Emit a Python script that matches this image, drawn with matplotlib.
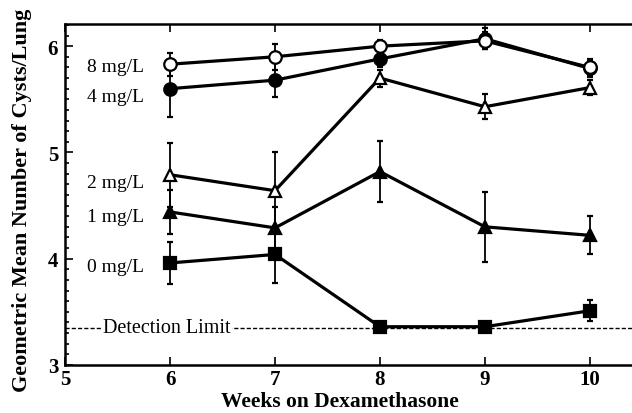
import numpy as np
import matplotlib.pyplot as plt

plt.rcParams['font.family'] = ['Liberation Serif', 'DejaVu Serif']

weeks = [6, 7, 8, 9, 10]

mg0 = [3.96, 4.04, 3.36, 3.36, 3.51]
mg0_err = [0.20, 0.27, 0.0, 0.0, 0.10]
mg1 = [4.44, 4.29, 4.82, 4.30, 4.22]
mg1_err = [0.21, 0.20, 0.29, 0.33, 0.18]
mg2 = [4.79, 4.64, 5.70, 5.43, 5.61]
mg2_err = [0.30, 0.36, 0.08, 0.12, 0.07]
mg4 = [5.60, 5.68, 5.88, 6.07, 5.79]
mg4_err = [0.27, 0.16, 0.08, 0.10, 0.08]
mg8 = [5.83, 5.90, 6.00, 6.05, 5.80]
mg8_err = [0.11, 0.12, 0.06, 0.08, 0.08]

detection_limit = 3.35

labels = ['8 mg/L', '4 mg/L', '2 mg/L', '1 mg/L', '0 mg/L']
label_y = [5.81, 5.53, 4.72, 4.40, 3.93]

fig = plt.figure(figsize=(6.32, 4.14), dpi=100)
ax = fig.add_axes([0.103, 0.116, 0.905, 0.824])

def series(y, err, marker, fill):
    ax.errorbar(weeks, y, yerr=err, color='black', lw=2.3, marker=marker,
                ms=9, mfc=fill, mec='black', mew=1.6,
                elinewidth=1.3, capsize=2.5, capthick=1.3, zorder=3)

series(mg0, mg0_err, 's', 'black')
series(mg1, mg1_err, '^', 'black')
series(mg2, mg2_err, '^', 'white')
series(mg4, mg4_err, 'o', 'black')
series(mg8, mg8_err, 'o', 'white')

ax.axhline(detection_limit, color='black', lw=1.0, ls=(0, (3, 1.5)), zorder=1)
ax.text(5.97, detection_limit, 'Detection Limit', ha='center', va='center',
        fontsize=14.5, zorder=2,
        bbox=dict(facecolor='white', edgecolor='none', pad=1))

for lab, yy in zip(labels, label_y):
    ax.text(5.75, yy, lab, ha='right', va='center', fontsize=14)

ax.set_xlim(5, 10.45)
ax.set_ylim(3, 6.21)
ax.set_xticks([5, 6, 7, 8, 9, 10])
ax.set_yticks([3, 4, 5, 6])
ax.set_yticks(np.arange(3, 6.21, 0.1), minor=True)
ax.tick_params(direction='in', which='both', top=True, right=False,
               labelsize=15, width=1.2)
ax.tick_params(which='major', length=6)
ax.tick_params(which='minor', length=3)
ax.tick_params(axis='x', which='minor', bottom=False, top=False)
ax.tick_params(axis='x', pad=3)
ax.tick_params(axis='y', pad=5)
for t in ax.get_xticklabels() + ax.get_yticklabels():
    t.set_fontweight('bold')
for s in ax.spines.values():
    s.set_linewidth(1.8)

ax.set_xlabel('Weeks on Dexamethasone', fontsize=15.5, fontweight='bold')
ax.set_ylabel('Geometric Mean Number of Cysts/Lung', fontsize=16, fontweight='bold')
ax.xaxis.set_label_coords(0.48, -0.075)
ax.yaxis.set_label_coords(-0.058, 0.485)

fig.savefig('out.png', dpi=100)
